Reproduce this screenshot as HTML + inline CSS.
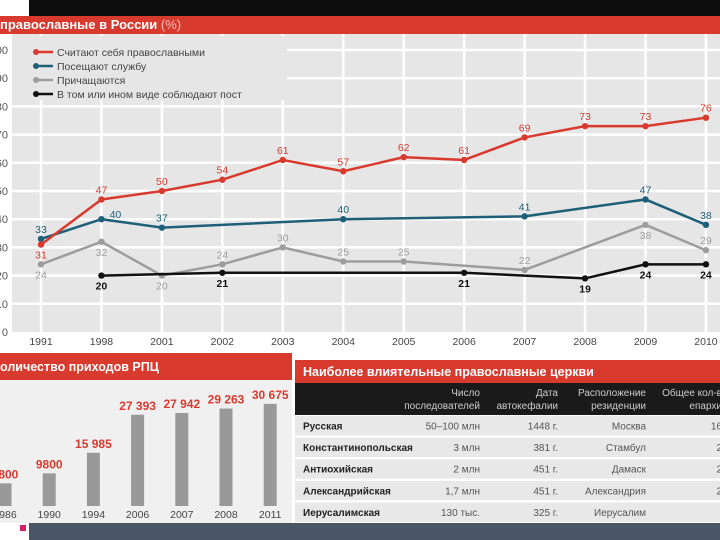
<!DOCTYPE html>
<html><head><meta charset="utf-8">
<style>
body{margin:0;width:720px;height:540px;overflow:hidden;background:#fff;font-family:"Liberation Sans","DejaVu Sans",sans-serif;}
svg{display:block}
</style></head>
<body>
<svg id="c" width="720" height="540" xmlns="http://www.w3.org/2000/svg" font-family="Liberation Sans, DejaVu Sans, sans-serif">
<rect x="29" y="0" width="691" height="16" fill="#0c0c0c"/>
<rect x="0" y="16" width="720" height="18" fill="#d93a2e"/>
<text x="0" y="29" font-size="13" font-weight="bold" fill="#fff">православные в России <tspan font-weight="normal" fill="#f3c0bb">(%)</tspan></text>
<rect x="12" y="34" width="708" height="298" fill="#e6e6e6"/>
<g id="grid"></g>
<g id="legend"></g>
<g id="series"></g>
<g id="axes"></g>

<rect x="0" y="353" width="292" height="27" fill="#d93a2e"/>
<text x="0" y="371" font-size="12.5" font-weight="bold" fill="#fff">оличество приходов РПЦ</text>
<rect x="0" y="380" width="292" height="143" fill="#f0f0f0"/>
<g id="bars"></g>

<rect x="295" y="360" width="425" height="23" fill="#d93a2e"/>
<text x="303" y="376" font-size="12.5" font-weight="bold" fill="#fff">Наиболее влиятельные православные церкви</text>
<rect x="295" y="383" width="425" height="32" fill="#1a1a1a"/>
<g id="table"></g>

<rect x="29" y="523" width="691" height="17" fill="#4a5566"/>
<rect x="20" y="525" width="6" height="6" fill="#d0206a"/>
</svg>
<script>
const NS="http://www.w3.org/2000/svg";
function mk(tag,attrs,parent,txt){const e=document.createElementNS(NS,tag);for(const k in attrs)e.setAttribute(k,attrs[k]);if(txt!==undefined)e.textContent=txt;parent.appendChild(e);return e;}

const years=["1991","1998","2001","2002","2003","2004","2005","2006","2007","2008","2009","2010"];
const redVals=[31,47,50,54,61,57,62,61,69,73,73,76];
const blueVals=[33,40,37,null,null,40,null,null,41,null,47,38];
const grayVals=[24,32,20,24,30,25,25,null,22,null,38,29];
const blackVals=[null,20,null,21,null,null,null,21,null,19,24,24];
const yTicks=[0,10,20,30,40,50,60,70,80,90,100];

const xS=i=>41+i*60.45;
const yS=v=>332-2.82*v;

const grid=document.getElementById('grid');
yTicks.forEach(t=>{
 if(t>0){const l=mk('line',{x1:12,x2:720,y1:yS(t),y2:yS(t),stroke:'#fff','stroke-width':2.5},grid);
 
 }
 const tx=mk('text',{x:8,y:yS(t)+4,'font-size':11,fill:'#555','text-anchor':'end'},document.getElementById('axes'),String(t));
 
 
});
years.forEach((y,i)=>{
 const l=mk('line',{x1:xS(i),x2:xS(i),y1:34,y2:332,stroke:'#fff','stroke-width':2.5},grid);
 
 
 const tx=mk('text',{x:xS(i),y:345,'font-size':10.5,fill:'#444','text-anchor':'middle'},document.getElementById('axes'),y);
 
 
});

const lg=document.getElementById('legend');
const lgBg=mk('rect',{x:12,y:36,width:275,height:64,fill:'#e6e6e6'},lg);


const legendItems=[["Считают себя православными","#d93a2e"],["Посещают службу","#1e5f7a"],["Причащаются","#9d9d9d"],["В том или ином виде соблюдают пост","#111"]];
legendItems.forEach((it,k)=>{
 const y=52+k*14;
 const g=mk('g',{},lg);
 
 
 mk('line',{x1:35,x2:53,y1:y,y2:y,stroke:it[1],'stroke-width':2.5},g);
 mk('circle',{cx:36,cy:y,r:3,fill:it[1]},g);
 mk('text',{x:57,y:y+4,'font-size':10.5,fill:'#444'},g,it[0]);
});

const ser=document.getElementById('series');
function drawSeries(vals,color,name,labelColor,labelBold,below,shift){
 const pts=[];vals.forEach((v,i)=>{if(v!==null)pts.push([xS(i),yS(v),v]);});
 const pl=mk('polyline',{points:pts.map(p=>p[0]+','+p[1]).join(' '),fill:'none',stroke:color,'stroke-width':2.5},ser);
 
 
 pts.forEach((p,k)=>{
  const c=mk('circle',{cx:p[0],cy:p[1],r:3.2,fill:color},ser);
  
  
  const b=typeof below==='function'?below(k,p):below;
  const s=shift?shift(k):null;
  const tx=s?p[0]+s[0]:p[0];
  const ty=s?p[1]+s[1]:(b?p[1]+14:p[1]-6);
  const t=mk('text',{x:tx,y:ty,'font-size':10.5,fill:labelColor,'font-weight':labelBold?'bold':'normal','text-anchor':'middle'},ser,String(p[2]));
  
  
 });
}
drawSeries(grayVals,'#9d9d9d','communion','#a0a0a0',false,(k)=>k===0||k===1||k===2||k===8);
drawSeries(blackVals,'#111','fasting','#111',true,true);
drawSeries(blueVals,'#1e5f7a','attend-service','#1e5f7a',false,false,(k)=>k===1?[14,-1]:null);
drawSeries(redVals,'#d93a2e','self-identify','#d93a2e',false,(k)=>k===0);

const barYears=["1986","1990","1994","2006","2007","2008","2011"];
const barVals=[6800,9800,15985,27393,27942,29263,30675];
const barLabels=["6800","9800","15 985","27 393","27 942","29 263","30 675"];
const bx=i=>5+i*44.2;
const bh=v=>v*0.00333;
const bars=document.getElementById('bars');
barVals.forEach((v,i)=>{
 const r=mk('rect',{x:bx(i)-6.5,y:506-bh(v),width:13,height:bh(v),fill:'#999'},bars);
 
 
 const t=mk('text',{x:bx(i),y:506-bh(v)-5,'font-size':12,'font-weight':'bold',fill:'#d93a2e','text-anchor':'middle'},bars,barLabels[i]);
 
 
 const y=mk('text',{x:bx(i),y:518,'font-size':10.5,fill:'#444','text-anchor':'middle'},bars,barYears[i]);
 
 
});

const tb=document.getElementById('table');
const hdr=[["Число","последователей",480],["Дата","автокефалии",558],["Расположение","резиденции",646],["Общее кол-в","епархи",722]];
hdr.forEach(h=>{
 const t=mk('text',{x:h[2],y:396,'font-size':10,fill:'#ccc','text-anchor':'end'},tb,h[0]);
 
 
 mk('text',{x:h[2],y:409,'font-size':10,fill:'#ccc','text-anchor':'end'},tb,h[1]);
});
const rows=[["Русская","50–100 млн","1448 г.","Москва","16"],["Константинопольская","3 млн","381 г.","Стамбул","2"],["Антиохийская","2 млн","451 г.","Дамаск","2"],["Александрийская","1,7 млн","451 г.","Александрия","2"],["Иерусалимская","130 тыс.","325 г.","Иерусалим",""]];
rows.forEach((r,i)=>{
 const y0=416+i*21.6;
 const bg=mk('rect',{x:295,y:y0,width:425,height:19.5,fill:'#e8e8e8'},tb);
 
 
 const n=mk('text',{x:303,y:y0+13.5,'font-size':10,'font-weight':'bold',fill:'#222'},tb,r[0]);
 
 
 [480,558,646,722].forEach((x,k)=>{
  const c=mk('text',{x:x,y:y0+13.5,'font-size':10,fill:'#555','text-anchor':'end'},tb,r[k+1]);
  
  
 });
});
</script>
</body></html>
